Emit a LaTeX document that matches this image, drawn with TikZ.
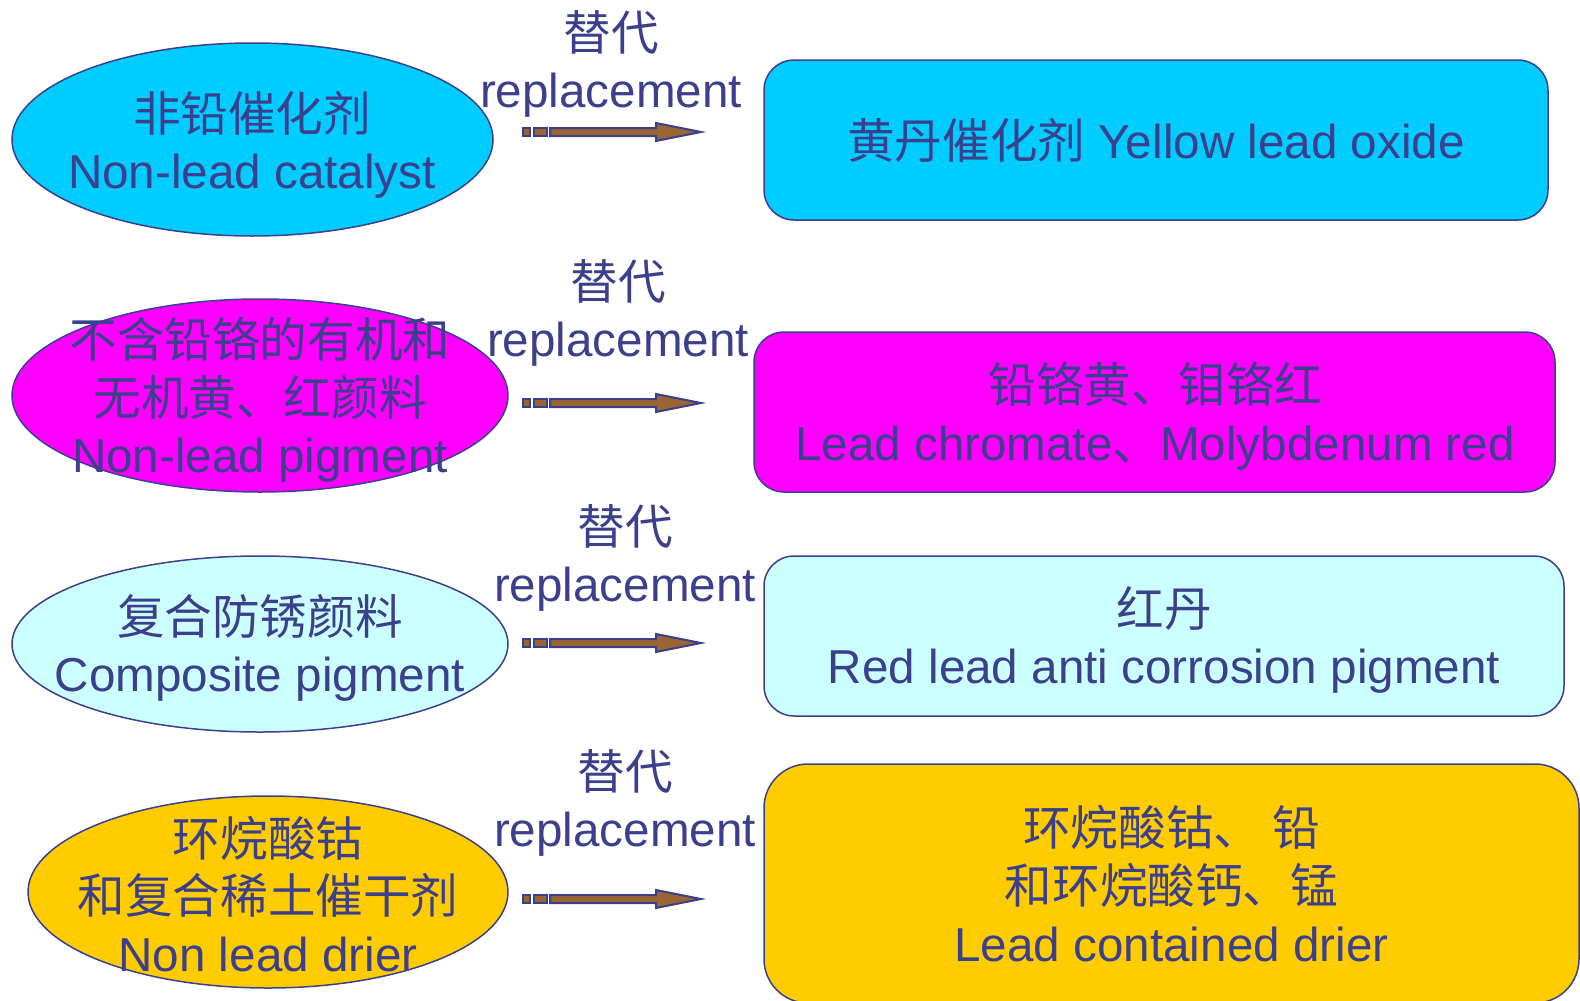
\documentclass[tikz,border=0pt]{standalone}
\usepackage{fontspec}
\setmainfont{Liberation Sans}
\newfontfamily\cjkfont{Noto Sans CJK SC}
\newcommand{\zhs}[1]{{\cjkfont #1}}
\usetikzlibrary{shapes.geometric}
\definecolor{navy}{RGB}{60,64,140}
\definecolor{cyanfill}{RGB}{0,204,255}
\definecolor{magfill}{RGB}{255,0,255}
\definecolor{lightcyan}{RGB}{204,255,255}
\definecolor{goldfill}{RGB}{255,204,0}
\definecolor{brownfill}{RGB}{153,102,51}
\tikzset{
  txt/.style={text=navy, font=\fontsize{23.8}{28.8}\selectfont, align=center, inner sep=0pt},
  ell/.style={ellipse, draw=navy, line width=0.75pt, inner sep=0pt},
  box/.style={rectangle, draw=navy, line width=0.75pt, rounded corners=15pt, inner sep=0pt,
              text=navy, font=\fontsize{23.8}{28.8}\selectfont, align=center},
  arrowline/.style={draw=navy, fill=brownfill, line width=1pt, line join=miter},
  stripedarrow/.pic={
    \path[arrowline] (0,-4) rectangle (7,4);
    \path[arrowline] (11,-4) rectangle (24,4);
    \path[arrowline] (27,-4) -- (133,-4) -- (133,-9) -- (178,0) -- (133,9) -- (133,4) -- (27,4) -- cycle;
  }
}
\begin{document}
\begin{tikzpicture}[x=0.5pt,y=-0.5pt]
\useasboundingbox (0,0) rectangle (1580,1001);

% row 1
\node[ell, fill=cyanfill, minimum width=240.5pt, minimum height=96.5pt] (e1) at (252.5,139.5) {};
\node[txt] (t1) at (252,145) {\zhs{非铅催化剂}\\Non-lead catalyst};
\node[box, fill=cyanfill, minimum width=392pt, minimum height=80pt] (b1) at (1156,140) {\zhs{黄丹催化剂} Yellow lead oxide};
\node[txt] (l1) at (611,64) {\zhs{替代}\\replacement};
\coordinate (a1) at (523,132);
\pic at (a1) {stripedarrow};

% row 2
\node[ell, fill=magfill, minimum width=248pt, minimum height=96.5pt] (e2) at (260,395.5) {};
\node[txt] (t2) at (260,400) {\zhs{不含铅铬的有机和}\\\zhs{无机黄、红颜料}\\Non-lead pigment};
\node[box, fill=magfill, minimum width=400.5pt, minimum height=80pt] (b2) at (1154.5,412) {};
\node[txt] (bt2) at (1155,416) {\zhs{铅铬黄、钼铬红}\\Lead chromate\zhs{、}Molybdenum red};
\node[txt] (l2) at (618,313) {\zhs{替代}\\replacement};
\coordinate (a2) at (523,403);
\pic at (a2) {stripedarrow};

% row 3
\node[ell, fill=lightcyan, minimum width=248pt, minimum height=88pt] (e3) at (260,644) {};
\node[txt] (t3) at (260,648) {\zhs{复合防锈颜料}\\Composite pigment};
\node[box, fill=lightcyan, minimum width=400pt, minimum height=80pt] (b3) at (1164,636) {};
\node[txt] (bt3) at (1164,640) {\zhs{红丹}\\Red lead anti corrosion pigment};
\node[txt] (l3) at (625,558) {\zhs{替代}\\replacement};
\coordinate (a3) at (523,643);
\pic at (a3) {stripedarrow};

% row 4
\node[ell, fill=goldfill, minimum width=240pt, minimum height=96pt] (e4) at (268,892) {};
\node[txt] (t4) at (268,894) {\zhs{环烷酸钴}\\\zhs{和复合稀土催干剂}\\Non lead drier};
\node[box, fill=goldfill, rounded corners=22pt, minimum width=407.5pt, minimum height=119.5pt] (b4) at (1171.5,883.5) {\zhs{环烷酸钴、 铅}\\\zhs{和环烷酸钙、锰}\\Lead contained drier};
\node[txt] (l4) at (625,803) {\zhs{替代}\\replacement};
\coordinate (a4) at (523,899);
\pic at (a4) {stripedarrow};
\end{tikzpicture}
\end{document}
